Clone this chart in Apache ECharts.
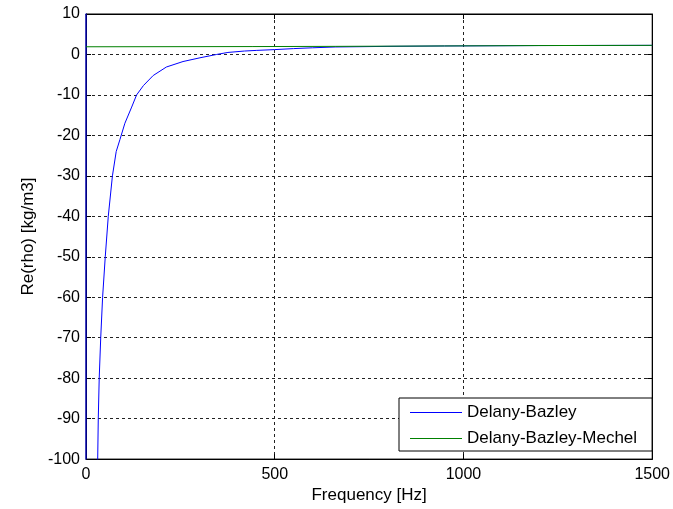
<!DOCTYPE html>
<html>
<head>
<meta charset="utf-8">
<script src="https://cdn.jsdelivr.net/npm/echarts@6/dist/echarts.min.js"></script>
<style>
html,body{margin:0;padding:0;background:#fff;}
#chart{width:673px;height:509px;}
</style>
</head>
<body>
<div id="chart"></div>
<script>
// Delany-Bazley: frequency [Hz] and Re(rho) [kg/m3]
var dbFreq  = [0, 1, 31, 32.5, 35, 39, 44, 51, 59, 70, 80, 90, 103, 121, 134, 152, 178, 213, 257, 302, 346, 376, 420, 451, 500, 550, 600, 660, 800, 950, 1200, 1500];
var dbValue = [60, -20000, -100, -90, -80, -70, -60, -50, -40, -30, -24, -21, -17, -13, -10, -7.7, -5.2, -3.1, -1.75, -0.82, 0, 0.5, 0.85, 1.0, 1.2, 1.45, 1.65, 1.85, 2.0, 2.1, 2.2, 2.25];
// Delany-Bazley-Mechel
var dbmFreq  = [0, 440, 660, 950, 1200, 1500];
var dbmValue = [1.9, 1.95, 2.0, 2.1, 2.2, 2.25];

var xTicks = [0, 500, 1000, 1500];
var yTicks = [10, 0, -10, -20, -30, -40, -50, -60, -70, -80, -90, -100];

var seriesNames = ['Delany-Bazley', 'Delany-Bazley-Mechel'];

function pairs(xs, ys){ return xs.map(function(x,i){ return [x, ys[i]]; }); }

var font = 'Liberation Sans, Arial, sans-serif';
var chart = echarts.init(document.getElementById('chart'));
var gridLine = {show:true, lineStyle:{color:'#222', type:[3,3], width:1}};
chart.setOption({
  animation:false,
  backgroundColor:'#fff',
  grid:{left:86, right:20, top:14, bottom:49, show:true, borderColor:'#000', borderWidth:1, backgroundColor:'transparent'},
  legend:{
    orient:'vertical', left:399, top:398,
    data:seriesNames,
    icon:'rect', itemWidth:52, itemHeight:1, itemGap:9, itemTextGap:5,
    padding:[6,15,4,11],
    borderColor:'#000', borderWidth:1, backgroundColor:'#fff', borderRadius:0,
    textStyle:{fontFamily:font, fontSize:17, color:'#000'}
  },
  xAxis:[{
    type:'value', min:xTicks[0], max:xTicks[xTicks.length-1], interval:500,
    name:'Frequency [Hz]', nameLocation:'middle', nameGap:27,
    nameTextStyle:{fontFamily:font, fontSize:17, color:'#000'},
    axisLine:{show:true, onZero:false, lineStyle:{color:'#000'}},
    axisTick:{show:true, inside:true, length:5, lineStyle:{color:'#000'}},
    axisLabel:{fontFamily:font, fontSize:16, color:'#000', margin:7, formatter:function(v){return String(v);}},
    splitLine:gridLine
  },{
    type:'value', position:'top', min:xTicks[0], max:xTicks[xTicks.length-1], interval:500,
    axisLine:{show:true, onZero:false, lineStyle:{color:'#000'}},
    axisTick:{show:true, inside:true, length:5, lineStyle:{color:'#000'}},
    axisLabel:{show:false}, splitLine:{show:false}
  }],
  yAxis:[{
    type:'value', min:yTicks[yTicks.length-1], max:yTicks[0], interval:10,
    name:'Re(rho) [kg/m3]', nameLocation:'middle', nameGap:42,
    nameTextStyle:{fontFamily:font, fontSize:17, color:'#000'},
    axisLine:{show:true, onZero:false, lineStyle:{color:'#000'}},
    axisTick:{show:true, inside:true, length:5, lineStyle:{color:'#000'}},
    axisLabel:{fontFamily:font, fontSize:16, color:'#000', margin:6},
    splitLine:gridLine
  },{
    type:'value', position:'right', min:yTicks[yTicks.length-1], max:yTicks[0], interval:10,
    axisLine:{show:true, onZero:false, lineStyle:{color:'#000'}},
    axisTick:{show:true, inside:true, length:5, lineStyle:{color:'#000'}},
    axisLabel:{show:false}, splitLine:{show:false}
  }],
  series:[{
    name:seriesNames[0], type:'line', data:pairs(dbFreq, dbValue),
    showSymbol:false, symbol:'none', clip:true,
    lineStyle:{color:'#0000ff', width:1}, itemStyle:{color:'#0000ff'}
  },{
    name:seriesNames[1], type:'line', data:pairs(dbmFreq, dbmValue),
    showSymbol:false, symbol:'none', clip:true,
    lineStyle:{color:'#008000', width:1}, itemStyle:{color:'#008000'}
  }]
});
</script>
</body>
</html>
